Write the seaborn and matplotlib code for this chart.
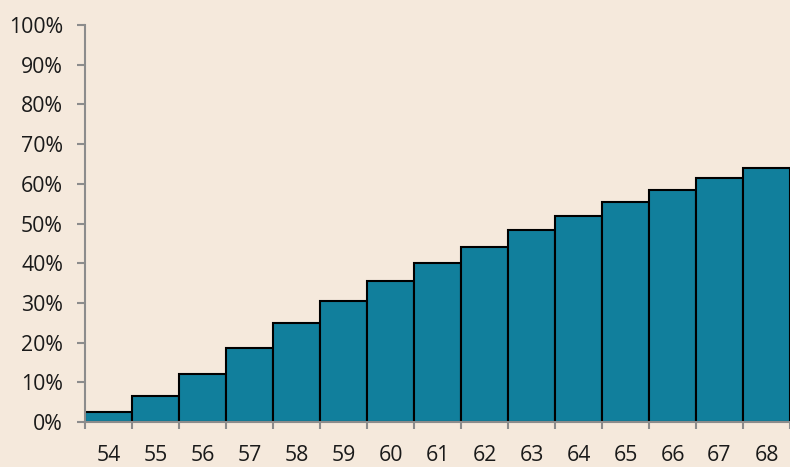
import matplotlib
matplotlib.use("Agg")
import matplotlib.pyplot as plt
import seaborn as sns
import pandas as pd
import numpy as np
from matplotlib.ticker import FixedLocator, PercentFormatter

ages = ["54", "55", "56", "57", "58", "59", "60", "61", "62", "63", "64", "65", "66", "67", "68"]
share = [2.4, 6.5, 12.1, 18.7, 24.9, 30.6, 35.6, 40.0, 44.2, 48.3, 51.8, 55.4, 58.4, 61.5, 64.1]
y_ticks = [0, 10, 20, 30, 40, 50, 60, 70, 80, 90, 100]

bg = "#F5E9DC"
bar_color = "#117F9C"
axis_gray = "#8C8C8C"

sns.set_theme(style="white")
plt.rcParams["font.family"] = ["Open Sans", "DejaVu Sans"]

df = pd.DataFrame({"age": ages, "share": share})

fig = plt.figure(figsize=(7.9, 4.67), dpi=100, facecolor=bg)
ax = fig.add_axes([85 / 790, 1 - 422 / 467, (790 - 85) / 790, (422 - 25) / 467])
ax.set_facecolor(bg)

sns.barplot(data=df, x="age", y="share", color=bar_color, width=1.0,
            edgecolor="black", linewidth=1.5, saturation=1, ax=ax)

ax.set_xlim(-0.5, len(ages) - 0.5)
ax.set_ylim(0, 100)
ax.set_xlabel("")
ax.set_ylabel("")

ax.yaxis.set_major_locator(FixedLocator(y_ticks))
ax.yaxis.set_major_formatter(PercentFormatter(decimals=0))

for s in ["top", "right"]:
    ax.spines[s].set_visible(False)
for s in ["left", "bottom"]:
    ax.spines[s].set_color(axis_gray)
    ax.spines[s].set_linewidth(1.5)

ax.tick_params(axis="y", which="major", direction="out", length=5.8, width=1.5,
               color=axis_gray, labelsize=15.3, labelcolor="#1A1A1A", pad=10, left=True)
ax.tick_params(axis="x", which="major", length=0, labelsize=15.3,
               labelcolor="#1A1A1A", pad=16.5)
ax.xaxis.set_minor_locator(FixedLocator(np.arange(-0.5, len(ages), 1.0)))
ax.tick_params(axis="x", which="minor", direction="out", length=5, width=1.5,
               color=axis_gray, bottom=True)

fig.savefig("out.png", dpi=100, facecolor=bg)
